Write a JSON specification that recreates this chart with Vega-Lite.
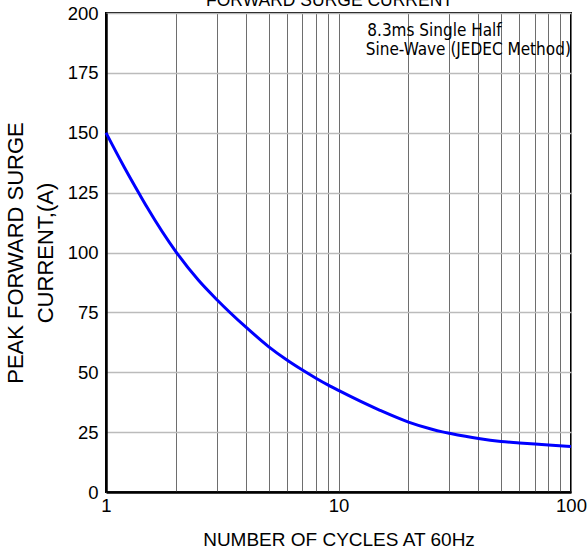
{
  "$schema": "https://vega.github.io/schema/vega-lite/v6.json",
  "width": 465,
  "height": 479,
  "autosize": {"type": "none"},
  "padding": {"left": 106, "top": 13, "right": 16, "bottom": 62},
  "background": "white",
  "config": {
    "view": {"stroke": "black", "strokeWidth": 2},
    "font": "Liberation Sans"
  },
  "title": {
    "text": "FORWARD SURGE CURRENT",
    "font": "Liberation Sans",
    "fontSize": 17.5,
    "fontWeight": "normal",
    "color": "black",
    "anchor": "middle",
    "baseline": "alphabetic",
    "frame": "group",
    "offset": 0,
    "dy": 19,
    "dx": -9
  },
  "layer": [
    {
      "data": {
        "values": [
          {"cycles": 1, "current": 150},
          {"cycles": 1.2, "current": 135.5},
          {"cycles": 1.4, "current": 124},
          {"cycles": 1.5, "current": 119},
          {"cycles": 2, "current": 100.3},
          {"cycles": 2.5, "current": 88.4},
          {"cycles": 3, "current": 80.3},
          {"cycles": 4, "current": 68.8},
          {"cycles": 5, "current": 60.7},
          {"cycles": 6, "current": 55.1},
          {"cycles": 7, "current": 50.9},
          {"cycles": 8, "current": 47.5},
          {"cycles": 9, "current": 44.7},
          {"cycles": 10, "current": 42.4},
          {"cycles": 15, "current": 34.2},
          {"cycles": 20, "current": 29.2},
          {"cycles": 25, "current": 26.3},
          {"cycles": 28, "current": 25.1},
          {"cycles": 30, "current": 24.5},
          {"cycles": 40, "current": 22.3},
          {"cycles": 50, "current": 21.1},
          {"cycles": 60, "current": 20.5},
          {"cycles": 70, "current": 20},
          {"cycles": 80, "current": 19.6},
          {"cycles": 100, "current": 19}
        ]
      },
      "mark": {"type": "line", "color": "#0000ff", "strokeWidth": 3, "interpolate": "monotone"},
      "encoding": {
        "x": {
          "field": "cycles",
          "type": "quantitative",
          "scale": {"type": "log", "domain": [1, 100]},
          "axis": {
            "values": [1, 2, 3, 4, 5, 6, 7, 8, 9, 10, 20, 30, 40, 50, 60, 70, 80, 90, 100],
            "labelExpr": "datum.value == 1 || datum.value == 10 || datum.value == 100 ? datum.label : ''",
            "format": "d",
            "labelFlush": false,
            "labelOverlap": false,
            "grid": true,
            "gridColor": "#6e6e6e",
            "gridWidth": 1,
            "gridOpacity": 1,
            "ticks": false,
            "domainColor": "black",
            "domainWidth": 2.5,
            "labelFont": "Liberation Sans",
            "labelFontSize": 18.5,
            "labelColor": "black",
            "labelPadding": 4,
            "title": "NUMBER OF CYCLES AT 60Hz",
            "titleFont": "Liberation Sans",
            "titleFontSize": 19,
            "titleFontWeight": "normal",
            "titleColor": "black",
            "titlePadding": 16
          }
        },
        "y": {
          "field": "current",
          "type": "quantitative",
          "scale": {"domain": [0, 200]},
          "axis": {
            "values": [0, 25, 50, 75, 100, 125, 150, 175, 200],
            "grid": true,
            "gridColor": "#bbbbbb",
            "gridWidth": 1.5,
            "gridOpacity": 1,
            "ticks": false,
            "domainColor": "black",
            "domainWidth": 2.5,
            "labelFont": "Liberation Sans",
            "labelFontSize": 18.5,
            "labelColor": "black",
            "labelPadding": 8,
            "title": ["PEAK FORWARD SURGE", "CURRENT,(A)"],
            "titleFont": "Liberation Sans",
            "titleFontSize": 22,
            "titleFontWeight": "normal",
            "titleColor": "black",
            "titleLineHeight": 30,
            "titlePadding": 10
          }
        }
      }
    },
    {
      "data": {
        "values": [
          {"cycles": 13.3, "current": 190.3, "note": "8.3ms Single Half"},
          {"cycles": 13.1, "current": 182.3, "note": "Sine-Wave (JEDEC Method)"}
        ]
      },
      "mark": {"type": "text", "align": "left", "baseline": "alphabetic", "font": "DejaVu Sans Condensed", "fontSize": 17, "color": "black"},
      "encoding": {
        "x": {"field": "cycles", "type": "quantitative"},
        "y": {"field": "current", "type": "quantitative"},
        "text": {"field": "note"}
      }
    }
  ]
}
